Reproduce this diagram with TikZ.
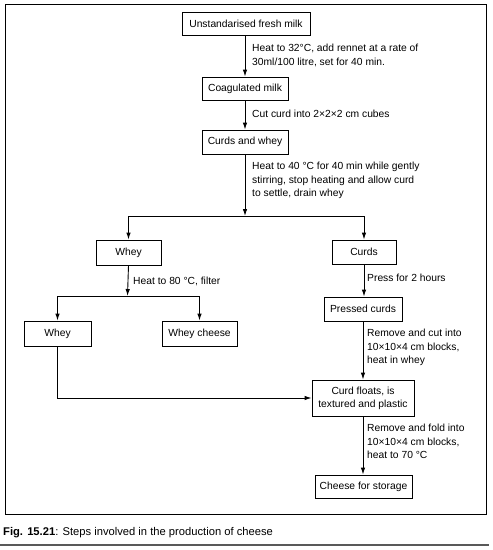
\documentclass[tikz,border=0pt]{standalone}
\usepackage{fontspec}
\setmainfont{Liberation Sans}
\usetikzlibrary{arrows.meta}
\begin{document}
\begin{tikzpicture}[x=1pt,y=-1pt,
  every node/.style={font=\fontsize{10.3}{13.5}\selectfont},
  box/.style={draw,line width=0.9pt,inner sep=0pt,align=center,minimum height=24pt},
  lbl/.style={anchor=north west,inner sep=0pt,align=left},
  arr/.style={line width=0.9pt,-{Latex[length=7pt,width=4.5pt]}},
  ln/.style={line width=0.9pt}]
\useasboundingbox (0,0) rectangle (493,550);
\draw[line width=0.9pt] (5,4) rectangle (486,514);
\draw[line width=1.3pt,gray!70!black] (0,545) -- (489,545);

\node[box,minimum width=128pt,minimum height=23pt] (milk) at (246,23.5) {Unstandarised fresh milk};
\node[box,minimum width=86pt,minimum height=23pt] (coag) at (245,88.5) {Coagulated milk};
\node[box,minimum width=86pt] (cw) at (245,142) {Curds and whey};
\node[box,minimum width=65pt,minimum height=25pt] (whey1) at (128.5,252.5) {Whey};
\node[box,minimum width=64pt] (curds) at (364,252) {Curds};
\node[box,minimum width=67pt,minimum height=25pt] (whey2) at (57.5,333.5) {Whey};
\node[box,minimum width=75pt,minimum height=25pt] (wcheese) at (199.5,333.5) {Whey cheese};
\node[box,minimum width=78pt] (pressed) at (363,309) {Pressed curds};
\node[box,minimum width=102pt,minimum height=36pt,font=\fontsize{10.3}{12.7}\selectfont] (floats) at (363,398) {Curd floats, is\\textured and plastic};
\node[box,minimum width=97pt,minimum height=23pt] (storage) at (363.5,486.5) {Cheese for storage};

\coordinate (split) at (245,216);
\coordinate (split2) at (127.5,296);

\draw[arr] (245,0 |- milk.south) -- (245,0 |- coag.north);
\draw[arr] (coag.south) -- (cw.north);
\draw[arr] (cw.south) -- (split);
\draw[arr] (split) -| (whey1.north);
\draw[arr] (split) -| (curds.north);
\draw[arr] (whey1.south) -- (split2);
\draw[arr] (split2) -| (whey2.north);
\draw[arr] (split2) -| (wcheese.north);
\draw[arr] (curds.south) -- (curds.south |- pressed.north);
\draw[arr] (pressed.south) -- (pressed.south |- floats.north);
\draw[arr] (floats.south) -- (floats.south |- storage.north);
\draw[arr] (whey2.south) |- (floats.west);

\node[lbl] (l1) at (252,44) {Heat to 32\textdegree C, add rennet at a rate of\\30ml/100 litre, set for 40 min.};
\node[lbl] (l2) at (252,110) {Cut curd into 2\texttimes 2\texttimes 2 cm cubes};
\node[lbl] (l3) at (252,162) {Heat to 40 \textdegree C for 40 min while gently\\stirring, stop heating and allow curd\\to settle, drain whey};
\node[lbl] (l4) at (133,277) {Heat to 80 \textdegree C, filter};
\node[lbl] (l5) at (367,274) {Press for 2 hours};
\node[lbl] (l6) at (367,329) {Remove and cut into\\10\texttimes 10\texttimes 4 cm blocks,\\heat in whey};
\node[lbl] (l7) at (367,424) {Remove and fold into\\10\texttimes 10\texttimes 4 cm blocks,\\heat to 70 \textdegree C};
\node[lbl,font=\fontsize{11.2}{13}\selectfont] (cap) at (3,527) {\textbf{Fig. 15.21}: Steps involved in the production of cheese};
\end{tikzpicture}
\end{document}
